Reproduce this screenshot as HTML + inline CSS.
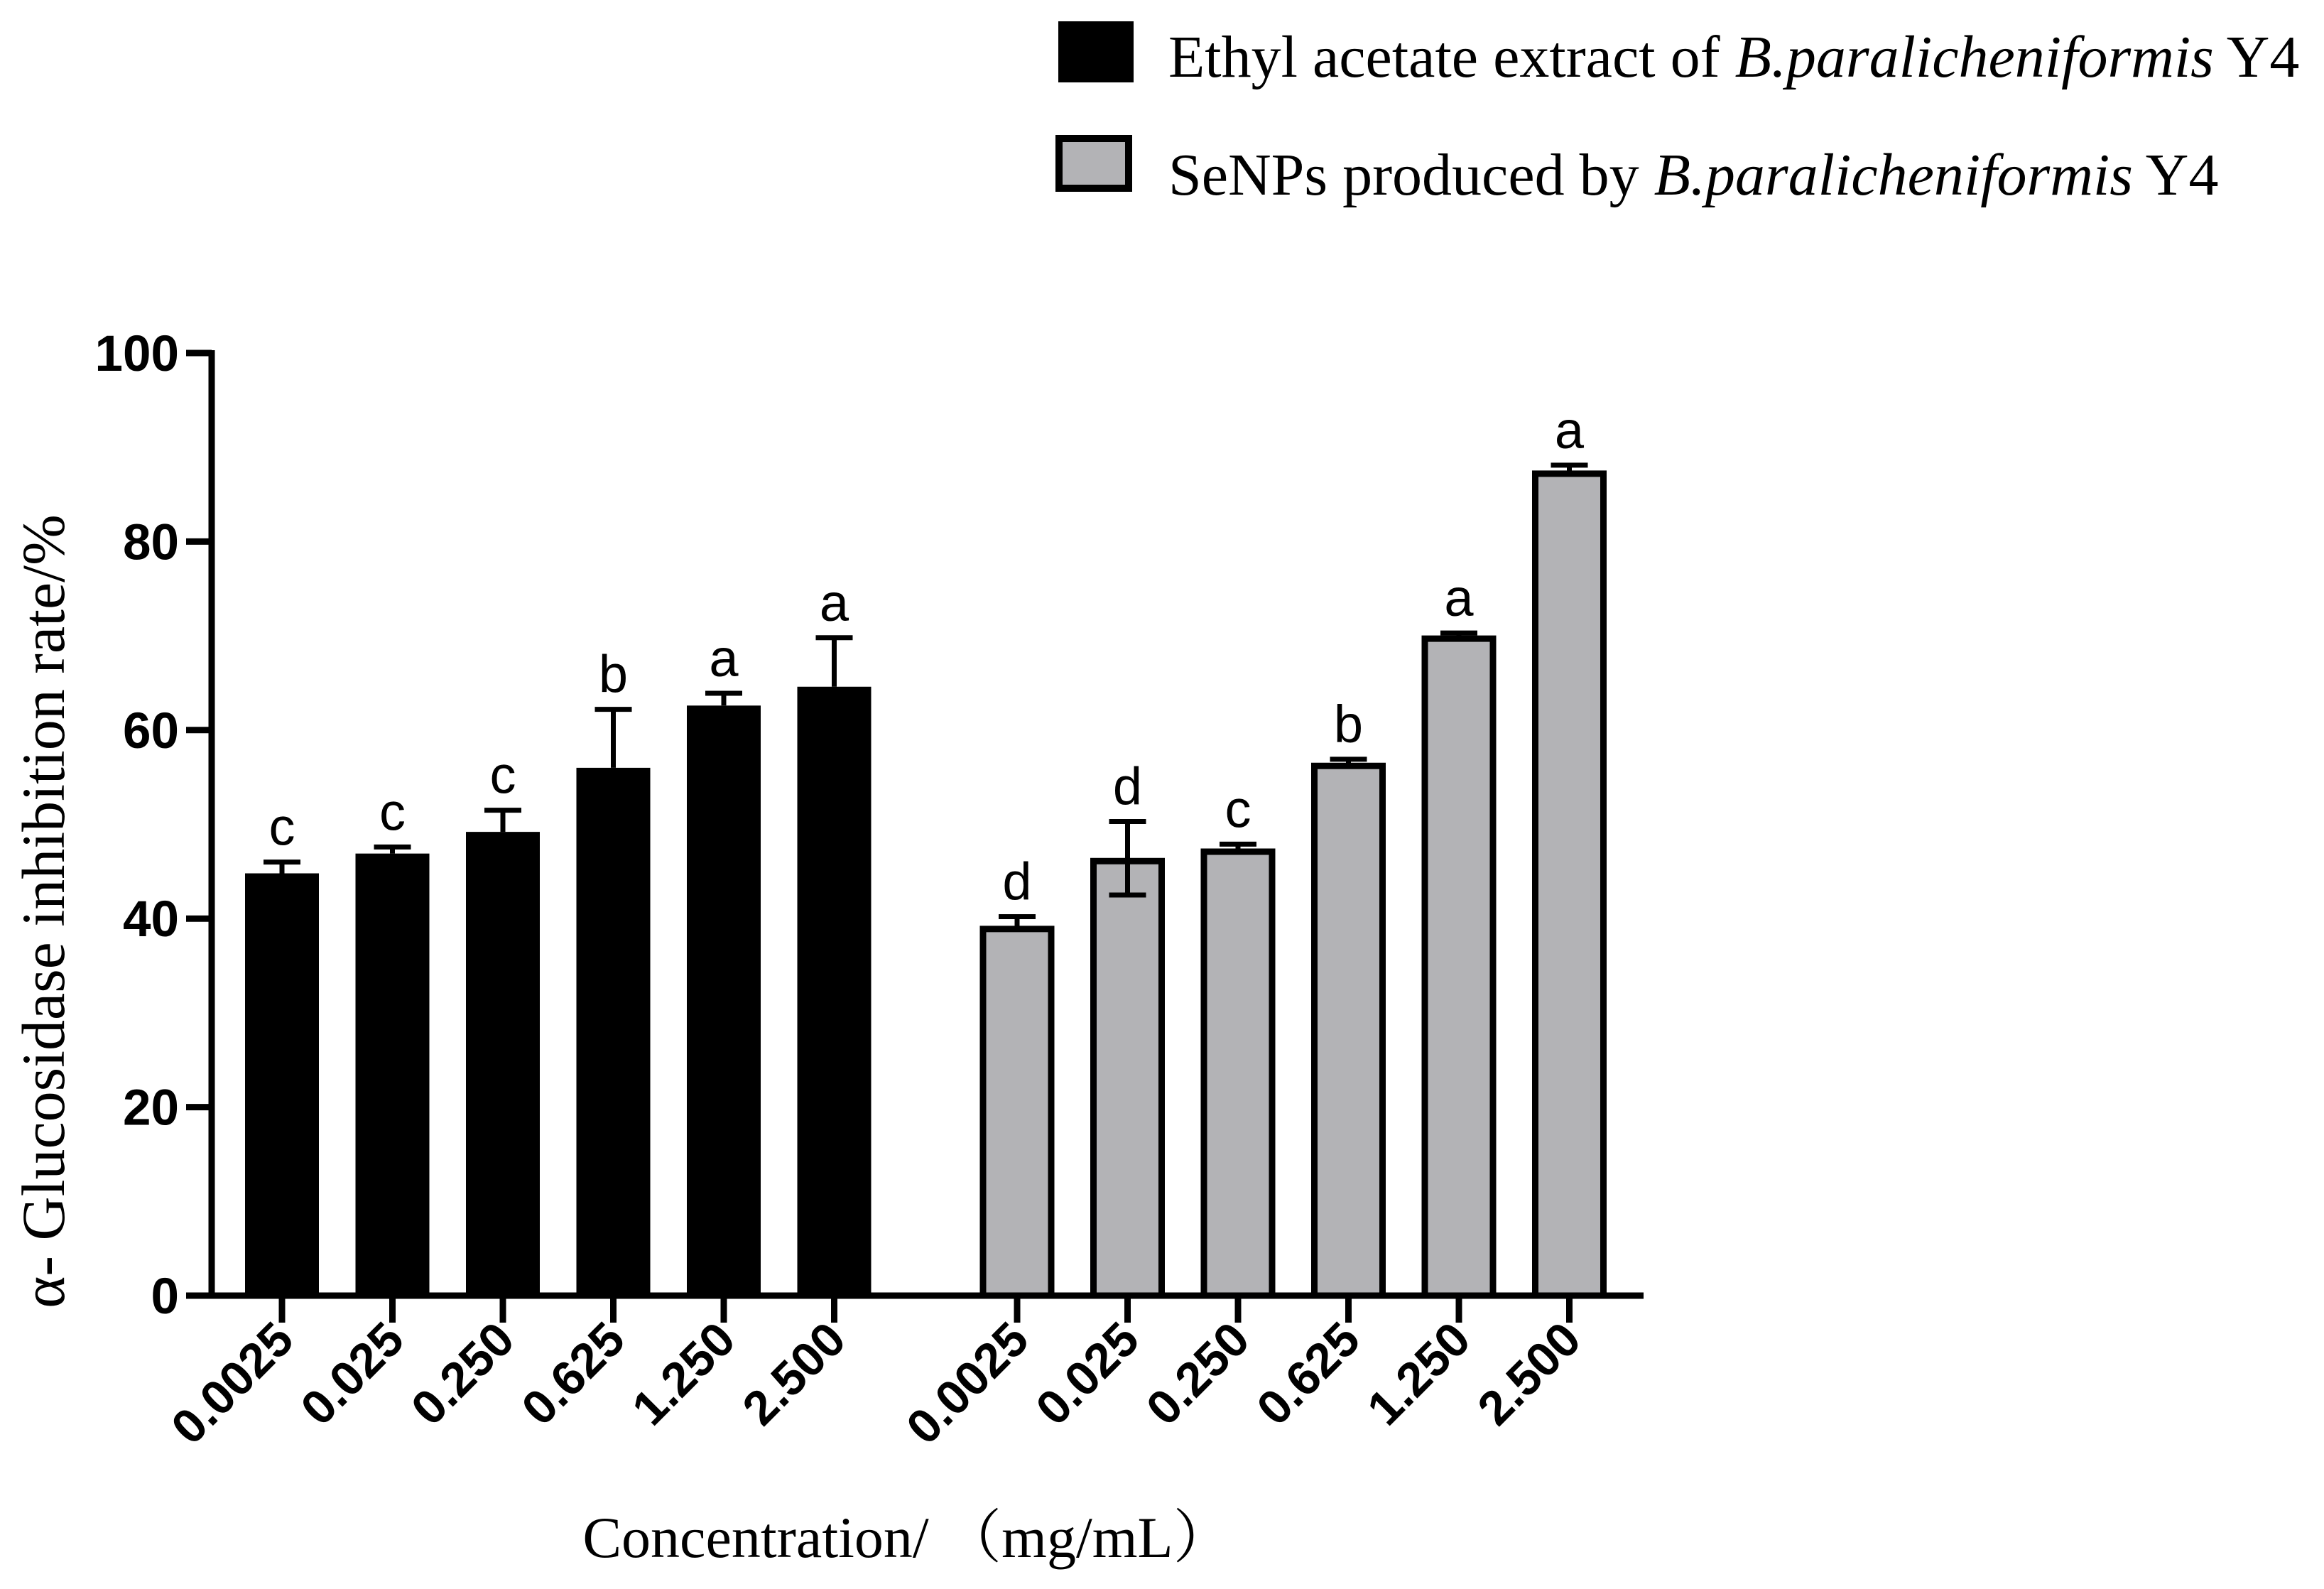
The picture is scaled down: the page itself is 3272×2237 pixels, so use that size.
<!DOCTYPE html>
<html><head><meta charset="utf-8"><style>
html,body{margin:0;padding:0;background:#fff;}
svg{display:block;}
</style></head><body>
<svg id="chart" width="3272" height="2237" viewBox="0 0 3272 2237" xmlns="http://www.w3.org/2000/svg">
<g id="legend">
  <rect x="1490" y="30" width="106" height="86" fill="#000"/>
  <text x="1645" y="108" font-family="Liberation Serif, serif" font-size="84">Ethyl acetate extract of <tspan font-style="italic">B.paralicheniformis</tspan> Y4</text>
  <rect x="1491" y="195" width="98" height="70" fill="#b3b3b6" stroke="#000" stroke-width="10"/>
  <text x="1645" y="274" font-family="Liberation Serif, serif" font-size="84">SeNPs produced by <tspan font-style="italic">B.paralicheniformis</tspan> Y4</text>
</g>
<g id="plot"></g>
<text transform="translate(90,1283) rotate(-90)" text-anchor="middle" font-family="Liberation Serif, serif" font-size="86">α- Glucosidase inhibition rate/%</text>
<text x="1277" y="2192" text-anchor="middle" font-family="Liberation Serif, 'Noto Serif CJK SC', serif" font-size="82">Concentration/ （mg/mL）</text>
</svg>
<script>
const categories = ["0.0025","0.025","0.250","0.625","1.250","2.500"];
const ethylValues = [44.8, 46.9, 49.2, 56.0, 62.6, 64.6];
const ethylErrors = [1.2, 0.7, 2.3, 6.2, 1.3, 5.2];
const ethylLetters = ["c","c","c","b","a","a"];
const senpValues = [39.2, 46.4, 47.4, 56.5, 70.0, 87.5];
const senpErrors = [1.0, 3.9, 0.5, 0.4, 0.3, 0.6];
const senpLetters = ["d","d","c","b","a","a"];
const yTicks = [0, 20, 40, 60, 80, 100];

const NS = "http://www.w3.org/2000/svg";
const g = document.getElementById("plot");
const x0 = 298, yBase = 1824, yTop = 497;
function yScale(v){ return yBase - (v/100)*(yBase - yTop); }
function xCenter(group, i){ return (group === 0 ? 397 : 1432) + i*155.5; }
function mk(tag, attrs){ const e = document.createElementNS(NS, tag); for (const k in attrs) e.setAttribute(k, attrs[k]); g.appendChild(e); return e; }

let ya = mk("line", {x1:x0, y1:yTop-4, x2:x0, y2:yBase+4, stroke:"#000", "stroke-width":9});


let xa = mk("line", {x1:x0-4, y1:yBase, x2:2314, y2:yBase, stroke:"#000", "stroke-width":9});



yTicks.forEach(t => {
  const y = yScale(t);
  const tk = mk("line", {x1:x0-36, y1:y, x2:x0, y2:y, stroke:"#000", "stroke-width":9});
  
  
  const lb = mk("text", {x:x0-46, y:y+25, "text-anchor":"end", "font-family":"Liberation Sans, sans-serif", "font-weight":"bold", "font-size":71});
  lb.textContent = t;
  
  
});

function drawGroup(group, values, errors, letters, fill){
  values.forEach((v, i) => {
    const cx = xCenter(group, i), w = 104;
    let bar;
    if (group === 0) {
      bar = mk("rect", {x:cx-w/2, y:yScale(v), width:w, height:yBase-yScale(v), fill:"#000"});
    } else {
      bar = mk("rect", {x:cx-w/2+4, y:yScale(v)+4, width:w-8, height:yBase-yScale(v)-4, fill:fill, stroke:"#000", "stroke-width":9});
    }
    
    
    const top = yScale(v + errors[i]);
    const eb = mk("path", {d:`M${cx},${yScale(v)} V${top} M${cx-26},${top} H${cx+26}`, stroke:"#000", "stroke-width":7, fill:"none"});
    
    
    if (group === 1 && i === 1) {
      const lo = yScale(v - errors[i]);
      const eb2 = mk("path", {d:`M${cx},${yScale(v)} V${lo} M${cx-26},${lo} H${cx+26}`, stroke:"#000", "stroke-width":7, fill:"none"});
      
      
    }
    const lt = mk("text", {x:cx, y:top-24, "text-anchor":"middle", "font-family":"Liberation Sans, sans-serif", "font-size":74});
    lt.textContent = letters[i];
    
    
    const tk = mk("line", {x1:cx, y1:yBase, x2:cx, y2:yBase+38, stroke:"#000", "stroke-width":9});
    
    
    const tl = mk("text", {transform:`translate(${cx+20},${yBase+66}) rotate(-45)`, "text-anchor":"end", "font-family":"Liberation Sans, sans-serif", "font-weight":"bold", "font-size":68});
    tl.textContent = categories[i];
    
    
  });
}
drawGroup(0, ethylValues, ethylErrors, ethylLetters, "#000");
drawGroup(1, senpValues, senpErrors, senpLetters, "#b3b3b6");
</script>
</body></html>
